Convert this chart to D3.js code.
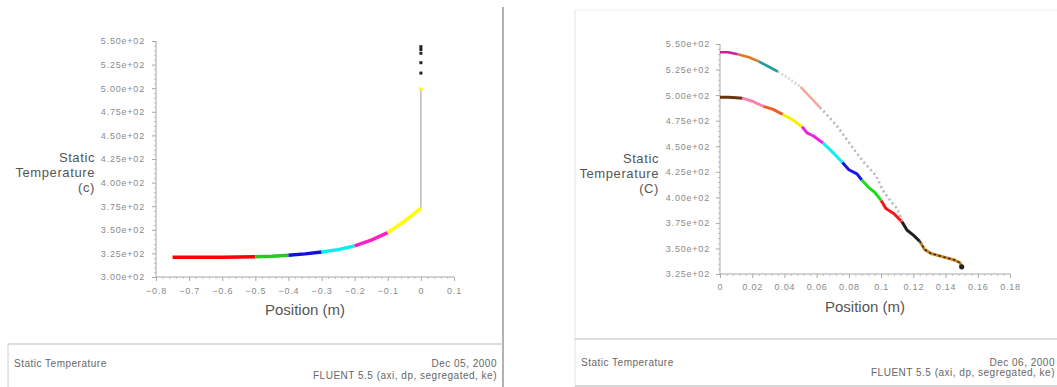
<!DOCTYPE html>
<html>
<head>
<meta charset="utf-8">
<script src="https://cdn.jsdelivr.net/npm/d3@7"></script>
<style>
  body { margin: 0; background: #fff; }
  svg { font-family: "Liberation Sans", Arial, sans-serif; display: block; }
  .axis .tick text { fill: #8a8a8a; font-size: 9px; letter-spacing: 0.8px; }
  .axis path, .axis line { stroke: #a8a8a8; }
  .minor line { stroke: #c4c4c4; }
  .title { fill: #555; font-size: 15px; }
  .ylab { fill: #555; font-size: 13px; letter-spacing: 0.6px; }
  .foot { fill: #666; font-size: 10px; letter-spacing: 0.5px; }
</style>
</head>
<body>
<svg id="chart" width="1057" height="387"></svg>
<script>
// ---- left plot (Dec 05): wall temperature along the pipe ----
const leftPos  = [-0.75, -0.7, -0.6, -0.5, -0.45, -0.4, -0.35, -0.3, -0.25, -0.2, -0.15, -0.1, -0.05, 0];
const leftTemp = [321, 321, 321, 321.5, 322, 323, 324.5, 326.5, 329, 333, 339, 347, 359, 373];
const leftZones = [0, 3, 5, 7, 9, 11, 13];      // point index where each zone starts / ends
const leftWallTemp = [373, 499];                // vertical wall at position 0
const leftTopDot = 499;
const leftBlackDots = [516, 527, 537, 541, 544];
const leftXTicks = [-0.8, -0.7, -0.6, -0.5, -0.4, -0.3, -0.2, -0.1, 0, 0.1];
const leftYTicks = [300, 325, 350, 375, 400, 425, 450, 475, 500, 525, 550];

// ---- right plot (Dec 06): two temperature profiles ----
const upperPos  = [0, 0.005, 0.011, 0.018, 0.024, 0.03, 0.036, 0.043, 0.05, 0.056, 0.062, 0.068, 0.073, 0.079, 0.084, 0.09, 0.097, 0.101, 0.106, 0.11, 0.113];
const upperTemp = [542, 542, 540, 537, 533, 528, 523, 516, 508, 498, 488, 478, 469, 456, 445, 433, 421, 407, 396, 389, 377];
const upperZones = [0, 2, 4, 6, 8, 10, 20];

const lowerPos  = [0, 0.005, 0.01, 0.014, 0.02, 0.027, 0.033, 0.039, 0.045, 0.051, 0.054, 0.058, 0.064, 0.07, 0.076, 0.08, 0.085, 0.088, 0.092, 0.096, 0.1, 0.103, 0.108, 0.113, 0.116, 0.12, 0.124, 0.127, 0.131, 0.138, 0.145, 0.149, 0.15];
const lowerTemp = [498, 498, 497.5, 497, 494, 489, 486, 481, 476, 469, 463, 460, 453, 444, 434, 427, 423, 417, 410, 405, 397, 389, 384, 376, 368, 363, 357, 349, 345, 342, 339, 336, 332];
const lowerZones = [0, 3, 5, 7, 9, 12, 14, 17, 20, 23, 26, 32];
const rightXTicks = [0, 0.02, 0.04, 0.06, 0.08, 0.1, 0.12, 0.14, 0.16, 0.18];
const rightYTicks = [325, 350, 375, 400, 425, 450, 475, 500, 525, 550];

// zone colours (style only)
const leftColors  = ["#ff0000", "#22cc22", "#1010e0", "#00f0f0", "#ff20c8", "#ffff00"];
const upperColors = ["#c8209a", "#e07828", "#209c9c", "#d4d4d4", "#f4a898", "#b8b8b8"];
const lowerColors = ["#6a3410", "#ff80b0", "#f05a28", "#f4f000", "#f020e0", "#10f0f0", "#1818e8", "#18e018", "#f01818", "#202020", "#c8821e"];

const svg = d3.select("#chart");
const sci = v => v.toExponential(2).replace(/e\+(\d)$/, "e+0$1");

function drawAxes(g, x, y, xt, yt, opt) {
  const [x0, x1] = x.range();
  const [y0, y1] = y.range();
  // minor ticks, five per major interval
  const xs = d3.range(xt.length - 1).flatMap(i => d3.range(1, 5).map(k => xt[i] + (xt[i + 1] - xt[i]) * k / 5));
  const ys = d3.range(yt.length - 1).flatMap(i => d3.range(1, 5).map(k => yt[i] + (yt[i + 1] - yt[i]) * k / 5));
  g.append("g").attr("class", "minor").attr("transform", `translate(0,${y0})`)
    .call(d3.axisBottom(x).tickValues(xs).tickSize(2).tickFormat(""))
    .select(".domain").remove();
  g.append("g").attr("class", "minor").attr("transform", `translate(${x0},0)`)
    .call(d3.axisLeft(y).tickValues(ys).tickSize(2).tickFormat(""))
    .select(".domain").remove();

  g.append("g").attr("class", "axis").attr("transform", `translate(0,${y0})`)
    .call(d3.axisBottom(x).tickValues(xt).tickSize(4).tickPadding(opt.xPad).tickFormat(d3.format("")))
    .call(a => a.select(".domain").attr("d", `M${x0},0H${x1}`));
  g.append("g").attr("class", "axis").attr("transform", `translate(${x0},0)`)
    .call(d3.axisLeft(y).tickValues(yt).tickSize(4).tickPadding(opt.yPad).tickFormat(sci))
    .call(a => a.select(".domain").attr("d", `M0,${y0}V${y1}`));

  const lab = g.append("text").attr("class", "ylab").attr("text-anchor", "end");
  ["Static", "Temperature", opt.unit].forEach((t, i) =>
    lab.append("tspan").attr("x", opt.labX).attr("y", opt.labY + i * 15).text(t));
  g.append("text").attr("class", "title").attr("text-anchor", "middle")
    .attr("x", (x0 + x1) / 2).attr("y", opt.posY).text("Position (m)");
}

function drawZones(g, x, y, pos, temp, zones, colors, width, dash) {
  const line = d3.line().x(i => x(pos[i])).y(i => y(temp[i]));
  for (let z = 0; z < zones.length - 1; z++) {
    g.append("path")
      .attr("d", line(d3.range(zones[z], zones[z + 1] + 1)))
      .attr("fill", "none")
      .attr("stroke", colors[z])
      .attr("stroke-width", width)
      .attr("stroke-linejoin", "round")
      .attr("stroke-dasharray", dash && dash[z] ? dash[z] : null);
  }
}

function footer(g, x0, x1, top, dy, title, date, ver) {
  g.append("text").attr("class", "foot").attr("x", x0 + 6).attr("y", top + dy[0]).text(title);
  g.append("text").attr("class", "foot").attr("text-anchor", "end").attr("x", x1).attr("y", top + dy[0]).text(date);
  g.append("text").attr("class", "foot").attr("text-anchor", "end").attr("x", x1).attr("y", top + dy[1]).text(ver);
}

// ---------- left panel ----------
{
  const g = svg.append("g");
  const x = d3.scaleLinear().domain([-0.8, 0.1]).range([156, 454]);
  const y = d3.scaleLinear().domain([300, 550]).range([277, 41]);

  g.append("line").attr("x1", 503).attr("x2", 503).attr("y1", 7).attr("y2", 387).attr("stroke", "#999").attr("stroke-width", 1.5);
  g.append("line").attr("x1", 8).attr("x2", 503).attr("y1", 344).attr("y2", 344).attr("stroke", "#bbb");
  g.append("line").attr("x1", 8).attr("x2", 8).attr("y1", 344).attr("y2", 387).attr("stroke", "#ccc");

  drawAxes(g, x, y, leftXTicks, leftYTicks, { xPad: 7, yPad: 7, unit: "(c)", labX: 95, labY: 162, posY: 315 });

  g.append("line")
    .attr("x1", x(0)).attr("x2", x(0))
    .attr("y1", y(leftWallTemp[0])).attr("y2", y(leftWallTemp[1]))
    .attr("stroke", "#aaa").attr("stroke-width", 1.2);
  drawZones(g, x, y, leftPos, leftTemp, leftZones, leftColors, 3.5);
  g.append("circle").attr("cx", x(0)).attr("cy", y(leftTopDot)).attr("r", 1.8).attr("fill", "#ffff00");
  g.selectAll(".bd").data(leftBlackDots).join("rect")
    .attr("x", x(0) - 1.5).attr("y", d => y(d) - 1.5).attr("width", 3).attr("height", 3).attr("fill", "#222");

  footer(g, 8, 497, 344, [23, 35], "Static Temperature", "Dec 05, 2000", "FLUENT 5.5 (axi, dp, segregated, ke)");
}

// ---------- right panel ----------
{
  const g = svg.append("g");
  const x = d3.scaleLinear().domain([0, 0.18]).range([720, 1010]);
  const y = d3.scaleLinear().domain([325, 550]).range([274, 44]);

  g.append("line").attr("x1", 575).attr("x2", 1057).attr("y1", 10).attr("y2", 10).attr("stroke", "#f0f0f0");
  g.append("line").attr("x1", 575).attr("x2", 575).attr("y1", 10).attr("y2", 387).attr("stroke", "#e4e4e4");
  g.append("line").attr("x1", 575).attr("x2", 1057).attr("y1", 339).attr("y2", 339).attr("stroke", "#bbb");
  g.append("line").attr("x1", 575).attr("x2", 1057).attr("y1", 386).attr("y2", 386).attr("stroke", "#aaa");

  drawAxes(g, x, y, rightXTicks, rightYTicks, { xPad: 6, yPad: 6, unit: "(C)", labX: 659, labY: 163, posY: 312 });

  drawZones(g, x, y, lowerPos, lowerTemp, lowerZones, lowerColors, 3);
  // dark markers of the upper profile riding on the shared tail
  drawZones(g, x, y, lowerPos, lowerTemp, [26, 32], ["#222"], 1.6, ["2,3"]);
  drawZones(g, x, y, upperPos, upperTemp, upperZones, upperColors, 2.6, [null, null, null, "2,2", null, "2,3"]);
  g.append("circle").attr("cx", x(lowerPos[32])).attr("cy", y(lowerTemp[32])).attr("r", 2.6).attr("fill", "#222");

  footer(g, 575, 1055, 339, [27, 37], "Static Temperature", "Dec 06, 2000", "FLUENT 5.5 (axi, dp, segregated, ke)");
}
</script>
</body>
</html>
